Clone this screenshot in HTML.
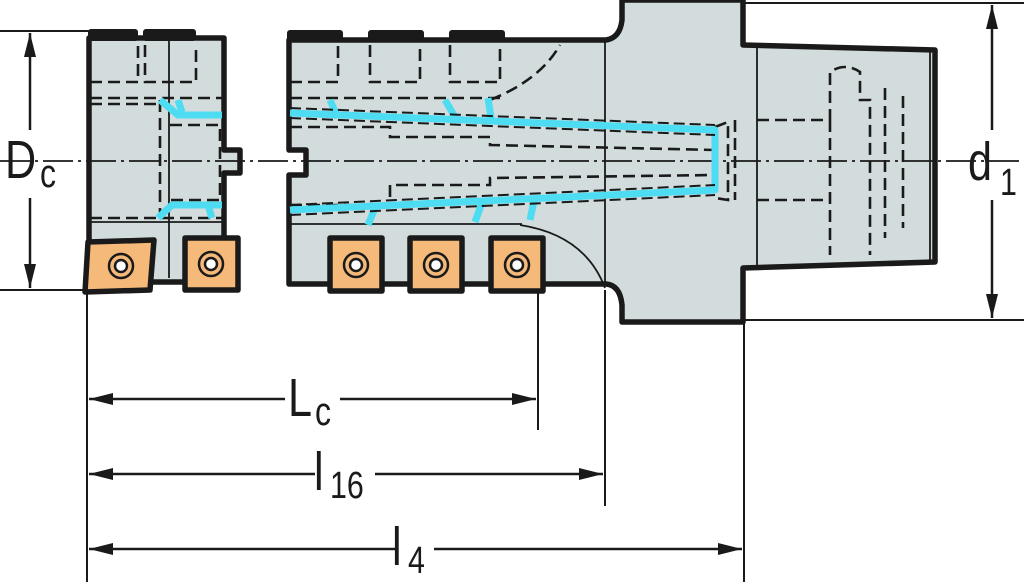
<!DOCTYPE html>
<html><head><meta charset="utf-8"><style>
html,body{margin:0;padding:0;background:#fff;width:1024px;height:588px;overflow:hidden}
svg{display:block}
text{font-family:"Liberation Sans",sans-serif;fill:#1a1a1a}
</style></head><body>
<svg width="1024" height="588" viewBox="0 0 1024 588" xmlns="http://www.w3.org/2000/svg">
<defs>
<marker id="a" viewBox="0 0 24 12" refX="24" refY="6" markerWidth="24" markerHeight="12" markerUnits="userSpaceOnUse" orient="auto-start-reverse"><path d="M0,0 L24,6 L0,12 Z" fill="#1a1a1a"/></marker>
</defs>
<g stroke="#1a1a1a" fill="none">
<line x1="0" y1="31" x2="90" y2="31" stroke-width="2"/>
<line x1="0" y1="290" x2="90" y2="290" stroke-width="2"/>
<line x1="745" y1="3" x2="1024" y2="3" stroke-width="2"/>
<line x1="745" y1="320" x2="1024" y2="320" stroke-width="2"/>
<line x1="87" y1="292" x2="87" y2="582" stroke-width="2"/>
<line x1="538" y1="292" x2="538" y2="430" stroke-width="2"/>
<line x1="605" y1="290" x2="605" y2="506" stroke-width="2"/>
<line x1="744" y1="322" x2="744" y2="582" stroke-width="2"/>
</g>
<g stroke="#1a1a1a" stroke-width="5.5" stroke-linejoin="round">
<path d="M89,38 L224,38 L224,150 L240,150 L240,173 L224,173 L224,282 L89,282 Z" fill="#d3dcdd"/>
<path d="M289,40 L606,40 Q620,38 622,20 L622,0 L743,0 L743,45 L935,50 L935,262 L743,268 L743,322 L622,322 L622,305 Q620,285 606,284 L289,284 L289,175 L306,175 L306,150 L289,150 Z" fill="#d3dcdd"/>
</g>
<g fill="#1a1a1a">
<rect x="88" y="29" width="50" height="12" rx="3"/>
<rect x="143" y="29" width="53" height="12" rx="3"/>
<rect x="287" y="30" width="56" height="12" rx="3"/>
<rect x="368" y="30" width="56" height="12" rx="3"/>
<rect x="449" y="30" width="56" height="12" rx="3"/>
</g>
<g stroke="#1a1a1a" stroke-width="1.8" fill="none">
<line x1="169" y1="40" x2="169" y2="278"/>
<line x1="605" y1="40" x2="605" y2="284"/>
<line x1="757" y1="48" x2="757" y2="266"/>
<line x1="930" y1="52" x2="930" y2="260"/>
<path d="M520,225 Q585,235 605,288"/>
<line x1="90" y1="222" x2="224" y2="222"/>
<line x1="290" y1="224" x2="522" y2="224"/>
</g>
<line x1="0" y1="161" x2="1024" y2="161" stroke="#1a1a1a" stroke-width="1.8" stroke-dasharray="30,5,3,5"/>
<g stroke="#1a1a1a" stroke-width="2.6" fill="none" stroke-dasharray="12,6">
<path d="M90,82 L138,82 L138,45 M145,45 L145,82 L196,82 L196,45"/>
<path d="M290,82 L338,82 L338,45 M370,45 L370,82 L420,82 L420,45 M450,45 L450,82 L500,82 L500,45"/>
<path d="M490,100 Q540,80 560,45"/>
<line x1="90" y1="98" x2="222" y2="98"/>
<line x1="90" y1="104" x2="160" y2="104"/>
<line x1="90" y1="218" x2="222" y2="218"/>
<path d="M160,100 L160,215 M170,125 L220,125 L220,200 L170,200"/>
<line x1="290" y1="98" x2="500" y2="98"/>
<path d="M290,127 L390,127 L390,137 L490,137 L490,145 L715,150"/>
<path d="M290,205 L390,205 L390,185 L490,185 L490,178 L715,175"/>
<path d="M715,127 L728,122 L728,200 L715,198 M735,120 L735,200"/>
<path d="M757,120 L830,120 L830,72 Q845,62 860,72 L860,100 L870,100 L870,255 M830,120 L830,255 M757,200 L830,200"/>
<path d="M885,88 L885,238 M903,96 L903,228"/>
</g>
<g stroke="#4ddcf2" stroke-width="7" fill="none" stroke-linejoin="round">
<path d="M290,113 L715,130 L715,190 L290,210"/>
<path d="M330,100 L338,118 M445,100 L458,122 M488,98 L492,124"/>
<path d="M375,208 L368,225 M483,200 L475,222 M535,196 L530,220"/>
<path d="M160,100 L178,115 L222,115 M178,100 L182,112"/>
<path d="M158,218 L172,205 L222,205 M208,205 L212,218"/>
</g>
<g stroke="#1a1a1a" stroke-width="2" fill="none" stroke-dasharray="11,5">
<path d="M290,108 L715,125 M290,118 L715,135 M290,205 L715,185 M290,215 L715,195"/>
</g>
<g stroke="#1a1a1a" stroke-width="5.5" fill="#f5b97a" stroke-linejoin="round">
<path d="M88,242 L154,240 L150,290 L85,292 Z"/>
<rect x="185" y="238" width="53" height="52"/>
<rect x="330" y="238" width="52" height="53"/>
<rect x="410" y="238" width="52" height="53"/>
<rect x="491" y="238" width="52" height="53"/>
</g>
<g fill="#fff" stroke="#1a1a1a" stroke-width="2.5">
<circle cx="121" cy="266" r="12" fill="#f5b97a"/><circle cx="121" cy="266" r="6"/>
<circle cx="211" cy="264" r="12" fill="#f5b97a"/><circle cx="211" cy="264" r="6"/>
<circle cx="356" cy="265" r="12" fill="#f5b97a"/><circle cx="356" cy="265" r="6"/>
<circle cx="436" cy="265" r="12" fill="#f5b97a"/><circle cx="436" cy="265" r="6"/>
<circle cx="517" cy="265" r="12" fill="#f5b97a"/><circle cx="517" cy="265" r="6"/>
</g>
<g stroke="#1a1a1a" stroke-width="2.5">
<line x1="30" y1="33" x2="30" y2="130" marker-start="url(#a)"/>
<line x1="30" y1="198" x2="30" y2="288" marker-end="url(#a)"/>
<line x1="992" y1="5" x2="992" y2="130" marker-start="url(#a)"/>
<line x1="992" y1="200" x2="992" y2="318" marker-end="url(#a)"/>
<line x1="89" y1="399" x2="285" y2="399" marker-start="url(#a)"/>
<line x1="340" y1="399" x2="536" y2="399" marker-end="url(#a)"/>
<line x1="89" y1="474" x2="315" y2="474" marker-start="url(#a)"/>
<line x1="375" y1="474" x2="603" y2="474" marker-end="url(#a)"/>
<line x1="89" y1="549" x2="395" y2="549" marker-start="url(#a)"/>
<line x1="434" y1="549" x2="742" y2="549" marker-end="url(#a)"/>
</g>
<g>
<text transform="translate(5,178) scale(0.8,1)" font-size="54">D</text>
<text transform="translate(40,187) scale(0.8,1)" font-size="40">c</text>
<text transform="translate(968,180) scale(0.8,1)" font-size="54">d</text>
<text transform="translate(1000,195) scale(0.8,1)" font-size="38">1</text>
<text transform="translate(288,416) scale(0.8,1)" font-size="54">L</text>
<text transform="translate(315,425) scale(0.8,1)" font-size="40">c</text>
<text transform="translate(314,490) scale(0.8,1)" font-size="54">l</text>
<text transform="translate(330,498) scale(0.8,1)" font-size="38">16</text>
<text transform="translate(392,565) scale(0.8,1)" font-size="54">l</text>
<text transform="translate(408,573) scale(0.8,1)" font-size="38">4</text>
</g>
</svg>
</body></html>
